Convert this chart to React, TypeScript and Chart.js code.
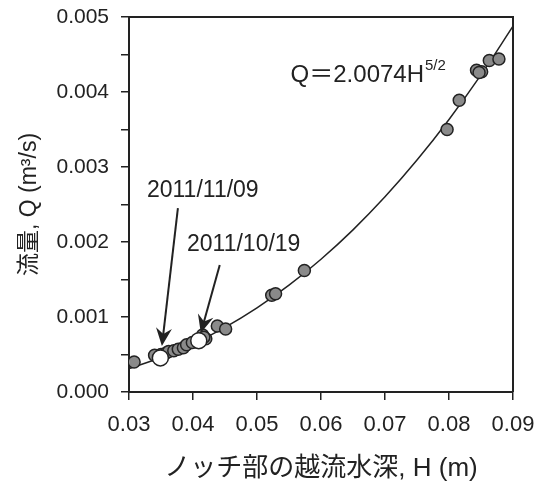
import React, { useEffect, useRef } from "react";
import { Chart, registerables } from "chart.js";

Chart.register(...registerables);

// Measured data (H in m, Q in m^3/s)
const grayH = [0.0308, 0.034, 0.035, 0.0358, 0.0362, 0.037, 0.0377, 0.0385, 0.039, 0.0399, 0.0415, 0.042, 0.0417, 0.0438, 0.0451, 0.0523, 0.0529, 0.0574, 0.0797, 0.0816, 0.0843, 0.0851, 0.0847, 0.0863, 0.0878];
const grayQ = [0.0004, 0.00049, 0.0005, 0.00052, 0.00054, 0.00055, 0.00057, 0.00059, 0.00063, 0.00066, 0.00076, 0.00071, 0.00073, 0.00088, 0.00084, 0.00129, 0.00131, 0.00162, 0.0035, 0.00389, 0.00429, 0.00427, 0.00426, 0.00442, 0.00444];

// Highlighted dates
const whiteH = [0.0349, 0.0409];
const whiteQ = [0.000455, 0.000685];

// Fitted curve Q = 2.0074 H^(5/2), tabulated values
const curveH = [0.03, 0.035, 0.04, 0.045, 0.05, 0.055, 0.06, 0.065, 0.07, 0.075, 0.08, 0.085, 0.09];
const curveQ = [0.000313, 0.00046, 0.000642, 0.000862, 0.001122, 0.001424, 0.00177, 0.002162, 0.002602, 0.003092, 0.003634, 0.004228, 0.004878];

const xTicks = [0.03, 0.04, 0.05, 0.06, 0.07, 0.08, 0.09];

const annotations = [
  { text: "2011/11/09", x: 0.04153, y: 0.00269, fromX: 0.03764, fromY: 0.002453, toX: 0.03514, toY: 0.000613 },
  { text: "2011/10/19", x: 0.04792, y: 0.00196, fromX: 0.04418, fromY: 0.001693, toX: 0.04122, toY: 0.000787 },
];

const equation = { main: "Q\uFF1D2.0074H", sup: "5/2", x: 0.05525, y: 0.004227 };

const INK = "#222222";
const LATIN = "'Liberation Sans', Arial, sans-serif";
const CJK = "'Liberation Sans', 'Noto Sans CJK JP', sans-serif";

const overlayPlugin = {
  id: "overlay",
  afterDraw(chart: any) {
    const { ctx, chartArea, scales } = chart;
    const xs = scales.x;
    const ys = scales.y;
    ctx.save();
    // top and right frame
    ctx.strokeStyle = INK;
    ctx.lineWidth = 2;
    ctx.beginPath();
    ctx.moveTo(chartArea.left, chartArea.top);
    ctx.lineTo(chartArea.right, chartArea.top);
    ctx.lineTo(chartArea.right, chartArea.bottom);
    ctx.stroke();

    ctx.fillStyle = INK;
    ctx.font = `23px ${LATIN}`;
    ctx.textBaseline = "middle";
    ctx.textAlign = "center";
    for (const a of annotations) {
      ctx.fillText(a.text, xs.getPixelForValue(a.x), ys.getPixelForValue(a.y));
      const x1 = xs.getPixelForValue(a.fromX);
      const y1 = ys.getPixelForValue(a.fromY);
      const x2 = xs.getPixelForValue(a.toX);
      const y2 = ys.getPixelForValue(a.toY);
      const ang = Math.atan2(y2 - y1, x2 - x1);
      const len = 18;
      const hw = 8;
      const bx = x2 - len * Math.cos(ang);
      const by = y2 - len * Math.sin(ang);
      ctx.lineWidth = 2;
      ctx.beginPath();
      ctx.moveTo(x1, y1);
      ctx.lineTo(x2 - 8 * Math.cos(ang), y2 - 8 * Math.sin(ang));
      ctx.stroke();
      const nx = -Math.sin(ang);
      const ny = Math.cos(ang);
      ctx.beginPath();
      ctx.moveTo(x2, y2);
      ctx.lineTo(bx + nx * hw, by + ny * hw);
      ctx.lineTo(x2 - 12 * Math.cos(ang), y2 - 12 * Math.sin(ang));
      ctx.lineTo(bx - nx * hw, by - ny * hw);
      ctx.closePath();
      ctx.fill();
    }

    // equation
    const ex = xs.getPixelForValue(equation.x);
    const ey = ys.getPixelForValue(equation.y);
    ctx.textAlign = "left";
    ctx.font = `24px ${CJK}`;
    ctx.fillText(equation.main, ex, ey);
    const w = ctx.measureText(equation.main).width;
    ctx.font = `15px ${LATIN}`;
    ctx.fillText(equation.sup, ex + w + 1, ey - 9);
    ctx.restore();
  },
};

export default function App() {
  const ref = useRef<HTMLCanvasElement | null>(null);
  useEffect(() => {
    document.body.style.margin = "0";
    if (!ref.current) return;
    const chart = new Chart(ref.current, {
      type: "scatter",
      data: {
        datasets: [
          {
            label: "highlight",
            data: whiteH.map((h, i) => ({ x: h, y: whiteQ[i] })),
            backgroundColor: "#ffffff",
            borderColor: INK,
            borderWidth: 1.5,
            pointRadius: 8,
          },
          {
            label: "obs",
            data: grayH.map((h, i) => ({ x: h, y: grayQ[i] })),
            backgroundColor: "#8a8a8a",
            borderColor: INK,
            borderWidth: 1.5,
            pointRadius: 6,
          },
          {
            label: "fit",
            type: "line",
            data: curveH.map((h, i) => ({ x: h, y: curveQ[i] })),
            borderColor: INK,
            borderWidth: 1.5,
            pointRadius: 0,
            fill: false,
            cubicInterpolationMode: "monotone",
          } as any,
        ],
      },
      options: {
        animation: false,
        responsive: false,
        devicePixelRatio: 1,
        layout: { padding: { top: 17, right: 23, left: 0, bottom: 0 } },
        plugins: { legend: { display: false }, tooltip: { enabled: false } },
        scales: {
          x: {
            type: "linear",
            min: 0.03,
            max: 0.09,
            afterFit: (s: any) => {
              s.height = 89;
              s.paddingLeft = 0;
              s.paddingRight = 0;
            },
            afterBuildTicks: (s: any) => {
              s.ticks = xTicks.map((v) => ({ value: v }));
            },
            ticks: {
              color: INK,
              font: { family: LATIN, size: 22 },
              padding: 12,
              maxRotation: 0,
              autoSkip: false,
              callback: (v: any) => Number(v).toFixed(2),
            },
            grid: { drawOnChartArea: false, drawTicks: true, tickLength: 8, color: INK, lineWidth: 1.5 },
            border: { display: true, color: INK, width: 2 },
            title: {
              display: true,
              text: "ノッチ部の越流水深, H (m)",
              color: INK,
              font: { family: CJK, size: 26, lineHeight: 0.9 },
              padding: { top: 0, bottom: 0 },
            },
          },
          y: {
            type: "linear",
            min: 0,
            max: 0.005,
            afterFit: (s: any) => {
              s.width = 129;
              s.paddingTop = 0;
              s.paddingBottom = 0;
            },
            ticks: {
              stepSize: 0.0005,
              color: INK,
              font: { family: LATIN, size: 21 },
              padding: 12,
              autoSkip: false,
              callback: (v: any) => {
                const n = Math.round(Number(v) * 10000);
                return n % 10 === 0 ? Number(v).toFixed(3) : "";
              },
            },
            grid: { drawOnChartArea: false, drawTicks: true, tickLength: 8, color: INK, lineWidth: 1.5 },
            border: { display: true, color: INK, width: 2 },
            title: {
              display: true,
              text: "流量, Q (m³/s)",
              color: INK,
              font: { family: CJK, size: 23 },
              padding: { top: 16, bottom: 16 },
            },
          },
        },
      },
      plugins: [overlayPlugin],
    });
    return () => chart.destroy();
  }, []);
  return (
    <div style={{ width: 536, height: 481 }}>
      <canvas ref={ref} width={536} height={481} />
    </div>
  );
}
